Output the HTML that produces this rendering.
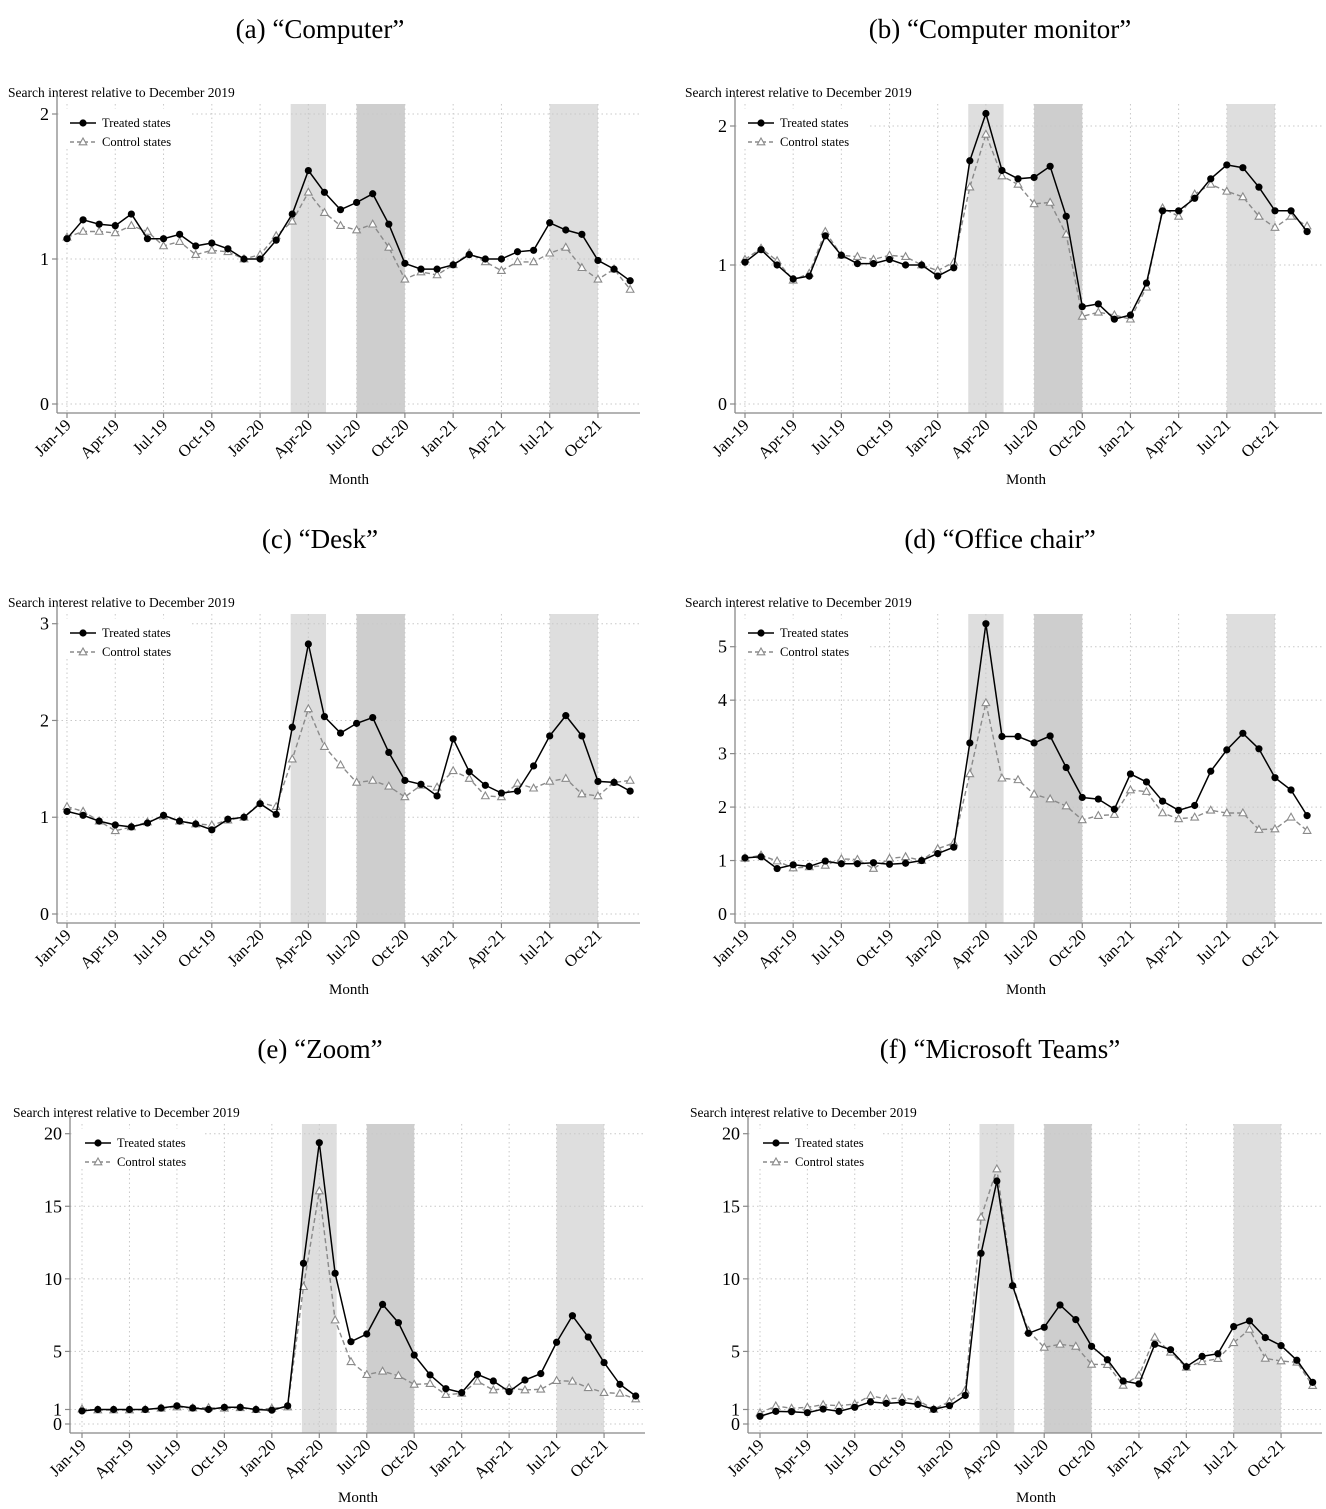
<!DOCTYPE html>
<html><head><meta charset="utf-8">
<style>
html,body{margin:0;padding:0;background:#fff;}
svg{display:block;font-family:"Liberation Serif",serif;}
</style></head>
<body>
<svg id="fig" width="1326" height="1509" viewBox="0 0 1326 1509" xmlns="http://www.w3.org/2000/svg"></svg>
<script>
const tickLabels = ["Jan-19","Apr-19","Jul-19","Oct-19","Jan-20","Apr-20","Jul-20","Oct-20","Jan-21","Apr-21","Jul-21","Oct-21"];
const bandsLight = [[13.9,16.1],[30,33]];
const bandsDark = [[18,21]];

const treatedA = [1.14,1.27,1.24,1.23,1.31,1.14,1.14,1.17,1.09,1.11,1.07,1.00,1.00,1.13,1.31,1.61,1.46,1.34,1.39,1.45,1.24,0.97,0.93,0.93,0.96,1.03,1.00,1.00,1.05,1.06,1.25,1.20,1.17,0.99,0.93,0.85];
const controlA = [1.15,1.19,1.19,1.18,1.23,1.19,1.09,1.12,1.03,1.06,1.05,1.00,1.03,1.16,1.26,1.46,1.32,1.23,1.20,1.24,1.08,0.86,0.91,0.89,0.96,1.04,0.98,0.92,0.98,0.98,1.04,1.08,0.94,0.86,0.93,0.79];
const treatedB = [1.02,1.11,1.00,0.90,0.92,1.21,1.07,1.01,1.01,1.04,1.00,1.00,0.92,0.98,1.75,2.09,1.68,1.62,1.63,1.71,1.35,0.70,0.72,0.61,0.64,0.87,1.39,1.39,1.48,1.62,1.72,1.70,1.56,1.39,1.39,1.24];
const controlB = [1.04,1.12,1.03,0.89,0.94,1.24,1.07,1.06,1.04,1.07,1.06,1.00,0.96,1.02,1.56,1.94,1.64,1.58,1.44,1.45,1.22,0.63,0.66,0.64,0.61,0.84,1.41,1.35,1.51,1.58,1.53,1.49,1.35,1.27,1.35,1.28];
const treatedC = [1.06,1.02,0.96,0.92,0.90,0.94,1.02,0.96,0.93,0.87,0.98,1.00,1.14,1.03,1.93,2.79,2.04,1.87,1.97,2.03,1.67,1.38,1.34,1.22,1.81,1.47,1.33,1.25,1.27,1.53,1.84,2.05,1.84,1.37,1.36,1.27];
const controlC = [1.11,1.06,0.96,0.86,0.90,0.95,1.01,0.96,0.93,0.92,0.97,1.00,1.15,1.11,1.60,2.12,1.73,1.54,1.36,1.38,1.32,1.21,1.33,1.31,1.48,1.40,1.22,1.21,1.35,1.30,1.37,1.40,1.24,1.22,1.36,1.38];
const treatedD = [1.05,1.07,0.85,0.92,0.89,0.99,0.94,0.94,0.96,0.93,0.95,1.00,1.13,1.25,3.20,5.43,3.32,3.32,3.20,3.33,2.74,2.18,2.15,1.96,2.62,2.47,2.11,1.94,2.03,2.67,3.07,3.38,3.09,2.55,2.32,1.84];
const controlD = [1.04,1.10,0.99,0.86,0.88,0.91,1.03,1.02,0.85,1.04,1.07,1.00,1.22,1.33,2.62,3.95,2.54,2.51,2.24,2.15,2.02,1.76,1.84,1.86,2.32,2.29,1.89,1.78,1.81,1.94,1.89,1.89,1.58,1.59,1.81,1.56];
const treatedE = [0.9,1.0,1.0,1.0,1.0,1.1,1.25,1.1,1.0,1.15,1.15,1.0,0.95,1.25,11.07,19.38,10.38,5.67,6.2,8.24,6.98,4.75,3.38,2.43,2.16,3.42,2.96,2.23,3.03,3.47,5.63,7.46,5.99,4.23,2.73,1.93];
const controlE = [1.03,0.96,0.96,0.96,1.0,1.08,1.17,1.1,1.12,1.08,1.12,0.99,1.08,1.17,9.46,16.05,7.16,4.29,3.40,3.63,3.33,2.73,2.78,2.02,2.11,2.94,2.34,2.48,2.34,2.39,2.99,2.94,2.5,2.16,2.11,1.72];
const treatedF = [0.53,0.87,0.85,0.78,1.03,0.87,1.15,1.52,1.42,1.49,1.35,1.01,1.26,1.97,11.76,16.74,9.53,6.25,6.66,8.2,7.19,5.35,4.43,2.96,2.76,5.49,5.12,3.95,4.66,4.84,6.71,7.1,5.95,5.4,4.39,2.87];
const controlF = [0.76,1.24,1.08,1.15,1.33,1.26,1.38,1.95,1.72,1.81,1.63,1.01,1.54,2.32,14.24,17.57,9.6,6.43,5.28,5.49,5.35,4.11,4.09,2.66,3.35,5.97,4.94,3.9,4.29,4.5,5.6,6.52,4.52,4.34,4.25,2.64];
const yTicksA = [0,1,2];
const yTicksC = [0,1,2,3];
const yTicksD = [0,1,2,3,4,5];
const yTicksE = [0,1,5,10,15,20];

const NS = "http://www.w3.org/2000/svg";
const fig = document.getElementById("fig");
function mk(tag, attrs, parent){
  const e = document.createElementNS(NS, tag);
  for (const k in attrs) e.setAttribute(k, attrs[k]);
  (parent||fig).appendChild(e);
  return e;
}

const panels = [
 {id:"a", title:"(a) \u201cComputer\u201d", tx:320, ty:38, t:treatedA, c:controlA, ticks:yTicksA,
  x0:67, dx:16.09, L:57, R:640, y0:404, top:104, ptop:114, pval:2, ytx:8, yty:97, lx:70, ly:123, mx:349, my:484},
 {id:"b", title:"(b) \u201cComputer monitor\u201d", tx:1000, ty:38, t:treatedB, c:controlB, ticks:yTicksA,
  x0:745, dx:16.06, L:735, R:1322, y0:404, top:104, ptop:126, pval:2, ytx:685, yty:97, lx:748, ly:123, mx:1026, my:484},
 {id:"c", title:"(c) \u201cDesk\u201d", tx:320, ty:548, t:treatedC, c:controlC, ticks:yTicksC,
  x0:67, dx:16.09, L:57, R:640, y0:914, top:614, ptop:623.7, pval:3, ytx:8, yty:607, lx:70, ly:633, mx:349, my:994},
 {id:"d", title:"(d) \u201cOffice chair\u201d", tx:1000, ty:548, t:treatedD, c:controlD, ticks:yTicksD,
  x0:745, dx:16.06, L:735, R:1322, y0:914, top:614, ptop:646.7, pval:5, ytx:685, yty:607, lx:748, ly:633, mx:1026, my:994},
 {id:"e", title:"(e) \u201cZoom\u201d", tx:320, ty:1058, t:treatedE, c:controlE, ticks:yTicksE,
  x0:82, dx:15.82, L:70, R:645, y0:1424, top:1124, ptop:1133.7, pval:20, ytx:13, yty:1117, lx:85, ly:1143, mx:358, my:1502},
 {id:"f", title:"(f) \u201cMicrosoft Teams\u201d", tx:1000, ty:1058, t:treatedF, c:controlF, ticks:yTicksE,
  x0:760, dx:15.79, L:748, R:1322, y0:1424, top:1124, ptop:1133.7, pval:20, ytx:690, yty:1117, lx:763, ly:1143, mx:1036, my:1502}
];

panels.forEach(p => {
  const g = mk("g", {});
  
  
  const per = (p.y0 - p.ptop) / p.pval;
  const X = i => p.x0 + i * p.dx;
  const Y = v => p.y0 - v * per;
  const bottom = p.y0 + 9;

  const title = mk("text", {x:p.tx, y:p.ty, "text-anchor":"middle", "font-size":27, fill:"#000"}, g);
  title.textContent = p.title;
  
  

  const yt = mk("text", {x:p.ytx, y:p.yty, "font-size":13.5, fill:"#000"}, g);
  yt.textContent = "Search interest relative to December 2019";
  
  

  bandsLight.forEach(b => {
    const r = mk("rect", {x:X(b[0]), y:p.top, width:X(b[1])-X(b[0]), height:bottom-p.top, fill:"#dedede"}, g);
    
    
  });
  bandsDark.forEach(b => {
    const r = mk("rect", {x:X(b[0]), y:p.top, width:X(b[1])-X(b[0]), height:bottom-p.top, fill:"#cecece"}, g);
    
    
  });

  tickLabels.forEach((lab, k) => {
    const gl = mk("line", {x1:X(k*3), x2:X(k*3), y1:p.top, y2:bottom, stroke:"#c8c8c8", "stroke-width":1, "stroke-dasharray":"1.5,3"}, g);
    
    
  });
  p.ticks.forEach(v => {
    const gl = mk("line", {x1:p.L, x2:p.R, y1:Y(v), y2:Y(v), stroke:"#c8c8c8", "stroke-width":1, "stroke-dasharray":"1.5,3"}, g);
    
    
  });

  const lb = mk("rect", {x:p.L+2, y:p.ly-14, width:130, height:40, fill:"#fff"}, g);
  
  

  const ya = mk("line", {x1:p.L, x2:p.L, y1:p.top - 8, y2:bottom, stroke:"#888", "stroke-width":1.3}, g);
  
  
  const xa = mk("line", {x1:p.L, x2:p.R, y1:bottom, y2:bottom, stroke:"#888", "stroke-width":1.3}, g);
  
  

  p.ticks.forEach(v => {
    const tk = mk("line", {x1:p.L-5, x2:p.L, y1:Y(v), y2:Y(v), stroke:"#888", "stroke-width":1.2}, g);
    
    
    const tl = mk("text", {x:p.L-8, y:Y(v)+6, "text-anchor":"end", "font-size":18, fill:"#000"}, g);
    tl.textContent = v;
    
    
  });
  tickLabels.forEach((lab, k) => {
    const x = X(k*3);
    const tk = mk("line", {x1:x, x2:x, y1:bottom, y2:bottom+5, stroke:"#888", "stroke-width":1.2}, g);
    
    
    const tl = mk("text", {x:x+5, y:bottom+13, "text-anchor":"end", "font-size":16.5, fill:"#000",
      transform:"rotate(-45 "+(x+5)+" "+(bottom+13)+")"}, g);
    tl.textContent = lab;
    
    
  });
  const mt = mk("text", {x:p.mx, y:p.my, "text-anchor":"middle", "font-size":15, fill:"#000"}, g);
  mt.textContent = "Month";
  
  

  const cpts = p.c.map((v,i) => X(i).toFixed(1)+","+Y(v).toFixed(1)).join(" ");
  const cl = mk("polyline", {points:cpts, fill:"none", stroke:"#8a8a8a", "stroke-width":1.4, "stroke-dasharray":"5,3"}, g);
  
  
  p.c.forEach((v,i) => {
    const x = X(i), y = Y(v);
    const m = mk("polygon", {points:`${x},${y-4} ${x-3.8},${y+2.8} ${x+3.8},${y+2.8}`, fill:"#fff", stroke:"#8a8a8a", "stroke-width":1.1}, g);
    
    
  });
  const tpts = p.t.map((v,i) => X(i).toFixed(1)+","+Y(v).toFixed(1)).join(" ");
  const tl2 = mk("polyline", {points:tpts, fill:"none", stroke:"#000", "stroke-width":1.5}, g);
  
  
  p.t.forEach((v,i) => {
    const m = mk("circle", {cx:X(i), cy:Y(v), r:3.6, fill:"#000"}, g);
    
    
  });

  const l1 = mk("line", {x1:p.lx, x2:p.lx+26, y1:p.ly, y2:p.ly, stroke:"#000", "stroke-width":1.5}, g);
  
  
  const l1m = mk("circle", {cx:p.lx+13, cy:p.ly, r:3.6, fill:"#000"}, g);
  
  
  const l1t = mk("text", {x:p.lx+32, y:p.ly+4, "font-size":12.5, fill:"#000"}, g);
  l1t.textContent = "Treated states";
  
  
  const ly2 = p.ly + 19;
  const l2 = mk("line", {x1:p.lx, x2:p.lx+26, y1:ly2, y2:ly2, stroke:"#8a8a8a", "stroke-width":1.4, "stroke-dasharray":"4,3"}, g);
  
  
  const cx = p.lx+13;
  const l2m = mk("polygon", {points:`${cx},${ly2-4} ${cx-3.8},${ly2+2.8} ${cx+3.8},${ly2+2.8}`, fill:"#fff", stroke:"#8a8a8a", "stroke-width":1.1}, g);
  
  
  const l2t = mk("text", {x:p.lx+32, y:ly2+4, "font-size":12.5, fill:"#000"}, g);
  l2t.textContent = "Control states";
  
  
});
</script>
</body></html>
